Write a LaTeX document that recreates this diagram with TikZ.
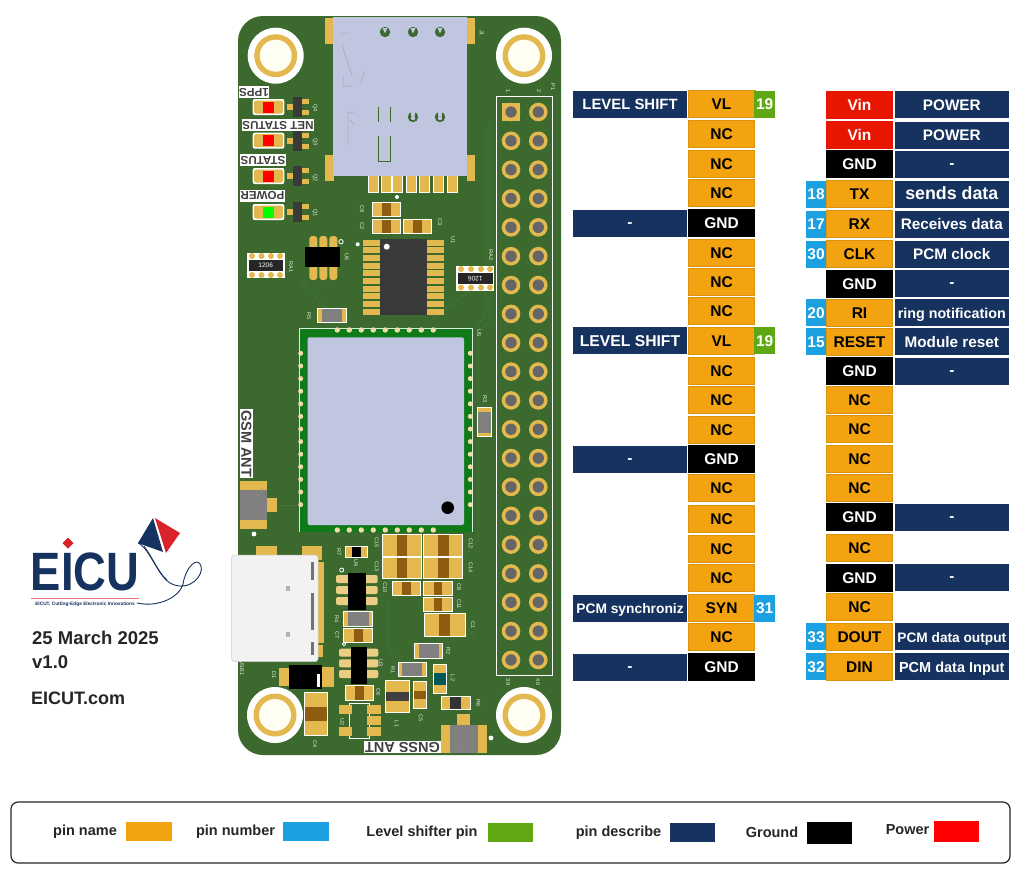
\documentclass[tikz,border=0pt]{standalone}
\usepackage{fontspec}
\setmainfont{Liberation Sans}
\usepackage{xcolor}
\usepackage{tikz}
\usetikzlibrary{shapes,positioning}

\definecolor{pinorange}{HTML}{F2A30F}
\definecolor{pinblue}{HTML}{1BA1E2}
\definecolor{pingreen}{HTML}{5FA814}
\definecolor{pinnavy}{HTML}{16325F}
\definecolor{pinred}{HTML}{E81500}
\definecolor{pcbgreen}{HTML}{3C6A2E}
\definecolor{pcbtrace}{HTML}{467638}
\definecolor{padgold}{HTML}{E3B94F}
\definecolor{simgrey}{HTML}{C0C5E0}
\definecolor{modgreen}{HTML}{0E7A18}
\definecolor{capbrown}{HTML}{8F5C10}
\definecolor{resgrey}{HTML}{808080}
\definecolor{chipdark}{HTML}{3A3A3A}
\definecolor{logored}{HTML}{D8232A}

\newcommand{\px}[1]{\fontsize{#1}{#1}\selectfont}

% part with its pads left and right: x1 y1 x2 y2 body share
\newcommand{\smdh}[6]{
    \fill[white] (#1,#2) rectangle (#3,#4);
    \fill[padgold] ({#1+1},{#2+1}) rectangle ({#3-1},{#4-1});
    \fill[#5] ({(#1+#3)/2-#6*(#3-#1)/2},{#2+1}) rectangle ({(#1+#3)/2+#6*(#3-#1)/2},{#4-1});
}
% part with its pads above and below
\newcommand{\smdv}[6]{
    \fill[white] (#1,#2) rectangle (#3,#4);
    \fill[padgold] ({#1+1},{#2+1}) rectangle ({#3-1},{#4-1});
    \fill[#5] ({#1+1},{(#2+#4)/2-#6*(#4-#2)/2}) rectangle ({#3-1},{(#2+#4)/2+#6*(#4-#2)/2});
}
% status led with its transistor
\newcommand{\ledrow}[2]{
    \fill[white, rounded corners=2pt] (252.7,{#1-8}) rectangle (284.3,{#1+8});
    \fill[padgold, rounded corners=2pt] (254,{#1-6.5}) rectangle (283,{#1+6.5});
    \fill[#2] (263,{#1-5.5}) rectangle (274,{#1+5.5});
    \fill[padgold] (287,{#1-3}) rectangle (293,{#1+3});
    \fill[padgold] (302,{#1-8}) rectangle (309,{#1-3});
    \fill[padgold] (302,{#1+3}) rectangle (309,{#1+8});
    \fill[chipdark] (293,{#1-10}) rectangle (302,{#1+10});
}

\begin{document}
\begin{tikzpicture}[
    x=1pt, y=-1pt,
    pinname/.style={rectangle, draw=pinorange!90!black, fill=pinorange, line width=0.5pt, inner sep=0pt,
                minimum width=66pt, minimum height=27pt, text height=11pt, text depth=0pt,
                text=black, font=\px{15.5}\bfseries},
    gndpin/.style={pinname, draw=black, fill=black, text=white},
    vinpin/.style={pinname, draw=pinred, fill=pinred, text=white},
    pinnum/.style={rectangle, fill=pinblue, inner sep=0pt, minimum width=20.6pt, minimum height=27pt,
                text height=11pt, text depth=0pt, text=white, font=\px{15.5}\bfseries},
    lvlpin/.style={pinnum, fill=pingreen},
    pindesc/.style={rectangle, fill=pinnavy, inner sep=0pt, minimum width=113.6pt, minimum height=27pt,
                text height=11pt, text depth=0pt, text=white, font=\px{15.3}\bfseries},
    dashdesc/.style={pindesc, text height=8.5pt},
    legendtext/.style={inner sep=0pt, text=black!85, font=\px{14.5}\bfseries},
    legendbox/.style={rectangle, inner sep=0pt, minimum width=45.5pt, minimum height=19.5pt},
    infotext/.style={anchor=west, inner sep=0pt, text=black!85, font=\px{18.5}\bfseries},
    silkbox/.style={fill=white, text=black!75, inner sep=0.6pt, minimum height=12pt, font=\px{11.6}\bfseries},
    silk/.style={inner sep=0pt, text=white!92!black, rotate=-90, font=\px{5.5}}
]
\useasboundingbox (0,0) rectangle (1024,881);
\fill[white] (0,0) rectangle (1024,881);

% Board
\fill[pcbgreen, rounded corners=25pt] (238,16) rectangle (561,755);
\draw[pcbtrace, line width=0.7pt] (490,120) -- (490,320) -- (478,335) -- (478,540) -- (440,585) -- (475,640);
\draw[pcbtrace, line width=0.7pt] (486,130) -- (486,316) -- (474,330);
\draw[pcbtrace, line width=0.7pt] (300,280) -- (345,330);
\draw[pcbtrace, line width=0.7pt] (432,320) -- (470,290);
\draw[pcbtrace, line width=0.7pt] (278,505) -- (299,505);
\draw[pcbtrace, line width=0.7pt] (388,600) -- (388,650) -- (405,665);

% Mounting holes
\foreach \hx/\hy in {275.7/55.7, 524/55.7, 275/715, 524/715} {
    \fill[white] (\hx,\hy) circle (28);
    \fill[padgold] (\hx,\hy) circle (21.5);
    \fill[white!95!yellow] (\hx,\hy) circle (16);
}

% SIM holder
\fill[padgold] (325,18) rectangle (333.5,44);
\fill[padgold] (467,18) rectangle (474.5,44);
\fill[padgold] (325,155) rectangle (333.5,181);
\fill[padgold] (467,155) rectangle (474.5,181);
\foreach \sx in {373,386,397,411,424,438,452} {
    \fill[white] (\sx-5.5,175) rectangle (\sx+5.5,192.5);
    \fill[padgold] (\sx-4.5,175) rectangle (\sx+4.5,191.5);
}
\fill[simgrey] (333.3,16.7) rectangle (467.3,175.7);
\foreach \sx in {385,413,440} {
    \fill[pcbgreen] (\sx,32) circle (5.2);
    \fill[simgrey] (\sx-2.5,28) -- (\sx+2.5,28) -- (\sx,33.5) -- cycle;
}
\foreach \sx in {413,440} {
    \fill[pcbgreen] (\sx,117) circle (5.2);
    \fill[simgrey] (\sx-2,110) rectangle (\sx+2,116);
    \fill[simgrey] (\sx,118) circle (2.2);
}
\draw[pcbgreen, line width=1pt] (378,107) -- (378,122);
\draw[pcbgreen, line width=1pt] (390,107) -- (390,122);
\draw[pcbgreen, line width=1pt] (378,136) -- (378,161) -- (390,161) -- (390,136);
\draw[black!35, line width=0.5pt] (341,33) -- (350,33) (342,45) -- (352,75) (343,75) -- (343,86) -- (352,86) (364,72) -- (361,84);
\draw[black!35, line width=0.5pt] (347,112) -- (355,112) (348,112) -- (348,145) (350,120) -- (355,125);

% Status leds
\ledrow{107}{red}
\ledrow{140.7}{red}
\ledrow{176}{red}
\ledrow{212}{green}
\node[silkbox, rotate=180] (lbl1pps) at (254,92) {1PPS};
\node[silkbox, rotate=180] (lblnet) at (278,125) {NET STATUS};
\node[silkbox, rotate=180] (lblstatus) at (263,160) {STATUS};
\node[silkbox, rotate=180] (lblpower) at (262.5,195.5) {POWER};

% Small caps under the holder
\smdh{371.7}{201.7}{401}{217.3}{capbrown}{0.3}
\smdh{371.7}{219}{401}{234}{capbrown}{0.3}
\smdh{403}{219}{432}{234}{capbrown}{0.3}
\fill[white] (397,197) circle (2);

% U1
\foreach \py in {242.5,250.2,257.9,265.6,273.3,281,288.7,296.4,304.1,311.8} {
    \fill[padgold] (362.7,\py-3) rectangle (380,\py+3);
    \fill[padgold] (427,\py-3) rectangle (443.5,\py+3);
}
\fill[chipdark] (380,239.3) rectangle (427.3,315);
\fill[white] (386.7,246.7) circle (3);
\fill[white] (357.7,244.3) circle (2);

% U6
\foreach \px in {313.3,323.3,333.3} {
    \fill[padgold, rounded corners=3pt] (\px-4,236) rectangle (\px+4,280);
}
\fill[black] (305,247) rectangle (340,267);
\draw[white, fill=pcbgreen, line width=0.8pt] (341,241.7) circle (2.2);

% Resistor arrays
\fill[white] (246.7,252.7) rectangle (285,278.3);
\fill[white] (456,266) rectangle (494,290.7);
\foreach \px in {252,261.5,271,280} {
    \fill[padgold] (\px,256) circle (3);
    \fill[padgold] (\px,275) circle (3);
}
\foreach \px in {461,471,481,490} {
    \fill[padgold] (\px,269) circle (3);
    \fill[padgold] (\px,287.5) circle (3);
}
\fill[black!85] (248.5,260) rectangle (283,270.7);
\fill[black!85] (458,273) rectangle (492.7,284);
\node[inner sep=0pt, text=white, font=\px{6.5}] (ra1val) at (265.7,265.4) {1206};
\node[inner sep=0pt, text=white, font=\px{6.5}, rotate=180] (ra2val) at (475.3,278.5) {1206};

% R5 and R3
\smdh{316.7}{307.7}{346.7}{323.3}{resgrey}{0.68}
\smdv{477.3}{407.3}{491.7}{437.3}{resgrey}{0.68}

% U5
\fill[modgreen] (299.3,328.3) rectangle (472.3,531.7);
\draw[white!85!modgreen, line width=0.6pt] (299.3,531.7) -- (299.3,328.3) -- (472.3,328.3) -- (472.3,531.7);
\foreach \cx in {337.3,349.3,361.3,373.3,385.3,397.3,409.3,421.3,433.3} {
    \fill[padgold!50!white] (\cx,330) circle (2.7);
    \fill[padgold!50!white] (\cx,530) circle (2.7);
}
\foreach \cy in {353.3,366,378.6,391.2,403.8,416.4,429,441.6,454.2,466.8,479.4,492,504.6} {
    \fill[padgold!50!white] (300.7,\cy) circle (2.5);
    \fill[padgold!50!white] (470.3,\cy) circle (2.5);
}
\fill[simgrey, rounded corners=2pt] (307.7,337.3) rectangle (464,525);
\fill[black] (447.7,507.7) circle (6.3);

% Header
\draw[white, line width=1pt] (496.7,96.7) rectangle (552.7,675);
\foreach \pr in {0,...,19} {
    \fill[padgold] (511,112+\pr*28.84) circle (9.3);
    \fill[padgold] (538.3,112+\pr*28.84) circle (9.3);
    \fill[black!60] (511,112+\pr*28.84) circle (5.7);
    \fill[black!60] (538.3,112+\pr*28.84) circle (5.7);
}
\fill[padgold] (501.7,102.7) rectangle (520.3,121.3);
\fill[black!60] (511,112) circle (5.7);

% GSM connector
\fill[padgold] (240,481) rectangle (266.7,529);
\fill[resgrey] (240,490) rectangle (266.7,520);
\fill[padgold] (266.7,498) rectangle (277.3,511.7);
\draw[black!45, line width=0.6pt] (253,497) arc (90:0:9);
\fill[white] (254,534) circle (2.4);
\node[silkbox, rotate=-90, font=\px{14.5}\bfseries, minimum height=12.5pt] (lblgsm) at (246.3,443.5) {GSM ANT};

% USB
\fill[padgold] (256,546) rectangle (277,556);
\fill[padgold] (302,546) rectangle (322,560);
\fill[padgold] (318,562) rectangle (324,643);
\fill[padgold] (313,645) rectangle (323,657);
\fill[white!95!black, rounded corners=3pt] (231.7,555) rectangle (318,661.7);
\draw[black!20, line width=0.5pt, rounded corners=3pt] (231.7,555) rectangle (318,661.7);
\fill[black!55] (311,562) rectangle (314,580);
\fill[black!55] (311,593) rectangle (314,630);
\fill[black!55] (311,642) rectangle (314,655);
\fill[black!30] (286,586) rectangle (290,591);
\fill[black!30] (286,632) rectangle (290,637);

% D1
\fill[padgold] (279,668) rectangle (289,686);
\fill[padgold] (322,667) rectangle (334,687);
\fill[black] (289,665) rectangle (322,689);
\fill[white] (316.7,674) rectangle (320,687);

% Lower parts
\smdv{304}{692}{327.7}{736}{capbrown}{0.3}
\smdv{413}{680.7}{427}{709}{capbrown}{0.3}
\smdh{345}{685}{374}{700.7}{capbrown}{0.3}
\smdv{385}{680}{410}{713}{black!75}{0.3}
\smdv{432.7}{664}{447.3}{694}{teal!70!black}{0.4}
\smdh{440.7}{695.7}{470.7}{710}{black!80}{0.35}
\smdh{397.7}{661.7}{426.7}{677.3}{resgrey}{0.68}
\smdh{414.3}{643}{443.3}{659}{resgrey}{0.68}
\smdh{343.3}{611}{373.3}{627.3}{resgrey}{0.68}
\smdh{343}{628}{373}{643}{capbrown}{0.3}
\smdh{345}{546}{368.3}{558.3}{black}{0.4}

% Cap block under the module
\smdh{381.7}{534}{422.3}{557.3}{capbrown}{0.26}
\smdh{381.7}{557.3}{422.3}{579.3}{capbrown}{0.26}
\smdh{423.3}{534}{463.3}{557.3}{capbrown}{0.26}
\smdh{423.3}{557.3}{463.3}{579.3}{capbrown}{0.26}
\smdh{392.3}{581}{420.7}{595.7}{capbrown}{0.3}
\smdh{423.3}{581}{452.7}{595.7}{capbrown}{0.3}
\smdh{423.3}{597}{452.7}{612}{capbrown}{0.3}
\smdh{424}{613.3}{465.7}{636.7}{capbrown}{0.26}

% U4 and U3
\foreach \py in {579,590,601} {
    \fill[padgold!70!white, rounded corners=2pt] (336,\py-4) rectangle (377.7,\py+4);
}
\fill[black] (348.3,573) rectangle (365.7,610);
\draw[white, line width=0.8pt] (341.7,570) circle (2);
\foreach \py in {652.7,663.3,674} {
    \fill[padgold!70!white, rounded corners=2pt] (339,\py-4) rectangle (378.3,\py+4);
}
\fill[black] (350.7,646.7) rectangle (366.7,684);
\draw[white, line width=0.8pt] (344,644) circle (1.8);

% U2
\draw[white, line width=0.6pt] (349,703) rectangle (369.3,738);
\fill[padgold] (339,705) rectangle (352,714);
\fill[padgold] (339,727) rectangle (352,736);
\fill[padgold] (367,705) rectangle (380.7,714);
\fill[padgold] (367,716) rectangle (380.7,725);
\fill[padgold] (367,727) rectangle (380.7,736);

% GNSS connector
\fill[padgold] (457,714) rectangle (470,725);
\fill[padgold] (441,725) rectangle (487,753);
\fill[resgrey] (450,725) rectangle (478,753);
\draw[black!45, line width=0.6pt] (456,740) arc (180:90:9);
\fill[white] (491,738) circle (2.4);
\node[silkbox, rotate=180, font=\px{14.5}\bfseries, minimum height=12.5pt] (lblgnss) at (402.5,747) {GNSS ANT};

% Reference marks
\node[silk] (mj1) at (481.7,33) {J1};
\node[silk] (mp1) at (553,87) {P1};
\node[silk] (mh1) at (508,91) {1};
\node[silk] (mh2) at (539,91) {2};
\node[silk] (mh39) at (508,682) {39};
\node[silk] (mh40) at (538,682) {40};
\node[silk] (mq4) at (315,107.7) {Q4};
\node[silk] (mq3) at (315,141.7) {Q3};
\node[silk] (mq2) at (315,177.7) {Q2};
\node[silk] (mq1) at (315,212.7) {Q1};
\node[silk] (mc9) at (362,209) {C9};
\node[silk] (mc2) at (362,226) {C2};
\node[silk] (mc3) at (440,222) {C3};
\node[silk] (mu1) at (453,240) {U1};
\node[silk] (mra2) at (491,255) {RA2};
\node[silk] (mra1) at (291,267) {RA1};
\node[silk] (mu6) at (346.7,257) {U6};
\node[silk] (mr5) at (309,316) {R5};
\node[silk] (mu5) at (479,333) {U5};
\node[silk] (mr3) at (485,399) {R3};
\node[silk] (mc15) at (376.7,542.7) {C15};
\node[silk] (mc13) at (376.7,566.7) {C13};
\node[silk] (mc10) at (385,588) {C10};
\node[silk] (mc12) at (470.7,544) {C12};
\node[silk] (mc14) at (470.7,568) {C14};
\node[silk] (mc8) at (459,587) {C8};
\node[silk] (mc11) at (459,604) {C11};
\node[silk] (mc1) at (473,625) {C1};
\node[silk] (mr7) at (339,552) {R7};
\node[silk] (mu4) at (356,563) {U4};
\node[silk] (mr4) at (336.7,619) {R4};
\node[silk] (mc7) at (337.3,635) {C7};
\node[silk] (mu3) at (380.7,663) {U3};
\node[silk] (mr1) at (392.7,670) {R1};
\node[silk] (mr2) at (448.3,651) {R2};
\node[silk] (ml2) at (452.7,678) {L2};
\node[silk] (mc6) at (378.3,691.7) {C6};
\node[silk] (mc5) at (420.7,718) {C5};
\node[silk] (ml1) at (396.7,724) {L1};
\node[silk] (mr6) at (478.3,702.7) {R6};
\node[silk] (mu2) at (342.3,721.7) {U2};
\node[silk] (mc4) at (315,744) {C4};
\node[silk] (md1) at (274,675) {D1};
\node[silk] (musb) at (242,668) {USB1};

% Left pins
\node[pindesc, font=\px{14.9}\bfseries] (ldesc1) at (630,104) {LEVEL SHIFT};
\node[pinname, minimum width=66.5pt] (lpin1) at (721.5,104) {VL};
\node[lvlpin] (lnum1) at (764.7,104) {19};
\node[pinname] (lpin2) at (721.5,134) {NC};
\node[pinname] (lpin3) at (721.5,163.5) {NC};
\node[pinname] (lpin4) at (721.5,193) {NC};
\node[dashdesc] (ldesc5) at (630,223) {-};
\node[gndpin] (lpin5) at (721.5,223) {GND};
\node[pinname] (lpin6) at (721.5,252.5) {NC};
\node[pinname] (lpin7) at (721.5,282) {NC};
\node[pinname] (lpin8) at (721.5,311) {NC};
\node[pindesc, font=\px{15.7}\bfseries] (ldesc9) at (630,340.5) {LEVEL SHIFT};
\node[pinname] (lpin9) at (721.5,340.5) {VL};
\node[lvlpin] (lnum9) at (764.7,340.5) {19};
\node[pinname] (lpin10) at (721.5,370.5) {NC};
\node[pinname] (lpin11) at (721.5,400) {NC};
\node[pinname] (lpin12) at (721.5,430) {NC};
\node[dashdesc] (ldesc13) at (630,459) {-};
\node[gndpin] (lpin13) at (721.5,459) {GND};
\node[pinname] (lpin14) at (721.5,488) {NC};
\node[pinname] (lpin15) at (721.5,519) {NC};
\node[pinname] (lpin16) at (721.5,549) {NC};
\node[pinname] (lpin17) at (721.5,578) {NC};
\node[pindesc, font=\px{13.8}\bfseries] (ldesc18) at (630,608) {PCM synchroniz};
\node[pinname] (lpin18) at (721.5,608) {SYN};
\node[pinnum] (lnum18) at (764.7,608) {31};
\node[pinname] (lpin19) at (721.5,637) {NC};
\node[dashdesc] (ldesc20) at (630,667) {-};
\node[gndpin] (lpin20) at (721.5,667) {GND};

% Right pins
\node[vinpin] (rpin1) at (859.5,104.5) {Vin};
\node[pindesc] (rdesc1) at (951.8,104.5) {POWER};
\node[vinpin] (rpin2) at (859.5,135) {Vin};
\node[pindesc] (rdesc2) at (951.8,135) {POWER};
\node[gndpin] (rpin3) at (859.5,164) {GND};
\node[dashdesc] (rdesc3) at (951.8,164) {-};
\node[pinnum] (rnum4) at (816,194) {18};
\node[pinname] (rpin4) at (859.5,194) {TX};
\node[pindesc, font=\px{17.8}\bfseries] (rdesc4) at (951.8,194) {sends data};
\node[pinnum] (rnum5) at (816,224) {17};
\node[pinname] (rpin5) at (859.5,224) {RX};
\node[pindesc] (rdesc5) at (951.8,224) {Receives data};
\node[pinnum] (rnum6) at (816,254) {30};
\node[pinname] (rpin6) at (859.5,254) {CLK};
\node[pindesc] (rdesc6) at (951.8,254) {PCM clock};
\node[gndpin] (rpin7) at (859.5,283.5) {GND};
\node[dashdesc] (rdesc7) at (951.8,283.5) {-};
\node[pinnum] (rnum8) at (816,312.5) {20};
\node[pinname] (rpin8) at (859.5,312.5) {RI};
\node[pindesc, font=\px{14.3}\bfseries] (rdesc8) at (951.8,312.5) {ring notification};
\node[pinnum] (rnum9) at (816,341.5) {15};
\node[pinname] (rpin9) at (859.5,341.5) {RESET};
\node[pindesc] (rdesc9) at (951.8,341.5) {Module reset};
\node[gndpin] (rpin10) at (859.5,371) {GND};
\node[dashdesc] (rdesc10) at (951.8,371) {-};
\node[pinname] (rpin11) at (859.5,400) {NC};
\node[pinname] (rpin12) at (859.5,429) {NC};
\node[pinname] (rpin13) at (859.5,458.5) {NC};
\node[pinname] (rpin14) at (859.5,488) {NC};
\node[gndpin] (rpin15) at (859.5,517) {GND};
\node[dashdesc] (rdesc15) at (951.8,517) {-};
\node[pinname] (rpin16) at (859.5,547.5) {NC};
\node[gndpin] (rpin17) at (859.5,577.5) {GND};
\node[dashdesc] (rdesc17) at (951.8,577.5) {-};
\node[pinname] (rpin18) at (859.5,607) {NC};
\node[pinnum] (rnum19) at (816,636.5) {33};
\node[pinname] (rpin19) at (859.5,636.5) {DOUT};
\node[pindesc, font=\px{13.7}\bfseries] (rdesc19) at (951.8,636.5) {PCM data output};
\node[pinnum] (rnum20) at (816,666.5) {32};
\node[pinname] (rpin20) at (859.5,666.5) {DIN};
\node[pindesc, font=\px{14.5}\bfseries] (rdesc20) at (951.8,666.5) {PCM data Input};

% Logo
\node[inner sep=0pt, text=pinnavy, font=\px{54}\bfseries] (logoname) at (85,572) {\scalebox{0.84}[1]{EICU}};
\fill[logored] (68,537.5) -- (73.5,543) -- (68,548.5) -- (62.5,543) -- cycle;
\fill[logored!60!white] (31,597.5) rectangle (139,599);
\node[inner sep=0pt, text=pinnavy, font=\px{4.8}\bfseries] (logotag) at (85,604.7) {EICUT, Cutting-Edge Electronic Innovations};
\fill[pinnavy] (153,518) -- (138,543) -- (163,552) -- cycle;
\fill[logored] (155,518) -- (180,533) -- (166,553) -- cycle;
\draw[pinnavy, line width=0.9pt] (138,543) .. controls (150,548) and (158,578) .. (172,584)
    .. controls (190,592) and (204,575) .. (201,566) .. controls (198,556) and (186,566) .. (183,584)
    .. controls (180,596) and (160,608) .. (137,603);
\draw[pinnavy, line width=0.7pt] (144,546) .. controls (152,556) and (158,572) .. (167,580);

% Date and version
\node[infotext] (datetext) at (32,638) {25 March 2025};
\node[infotext] (version) at (32,662) {v1.0};
\node[infotext, font=\px{18}\bfseries] (website) at (31,698) {EICUT.com};

% Legend
\node[draw=black!85, line width=1.2pt, rounded corners=2.5mm, inner sep=0pt,
      minimum width=999pt, minimum height=61pt] (legend) at (510.5,832.5) {};
\node[legendtext] (lgname) at (85,831.5) {pin name};
\node[legendbox, fill=pinorange] (lgnamebox) at (149,831.5) {};
\node[legendtext] (lgnum) at (235.5,831.5) {pin number};
\node[legendbox, fill=pinblue] (lgnumbox) at (306,831.5) {};
\node[legendtext] (lglvl) at (422,832.5) {Level shifter pin};
\node[legendbox, fill=pingreen] (lglvlbox) at (510.5,832.5) {};
\node[legendtext] (lgdesc) at (618.5,832.5) {pin describe};
\node[legendbox, fill=pinnavy] (lgdescbox) at (692.5,832.5) {};
\node[legendtext] (lggnd) at (772,832) {Ground};
\node[legendbox, fill=black, minimum height=22pt] (lggndbox) at (829.5,833) {};
\node[legendtext] (lgpow) at (907.5,829.5) {Power};
\node[legendbox, fill=red, minimum height=21pt] (lgpowbox) at (956.5,831.5) {};

\end{tikzpicture}
\end{document}
